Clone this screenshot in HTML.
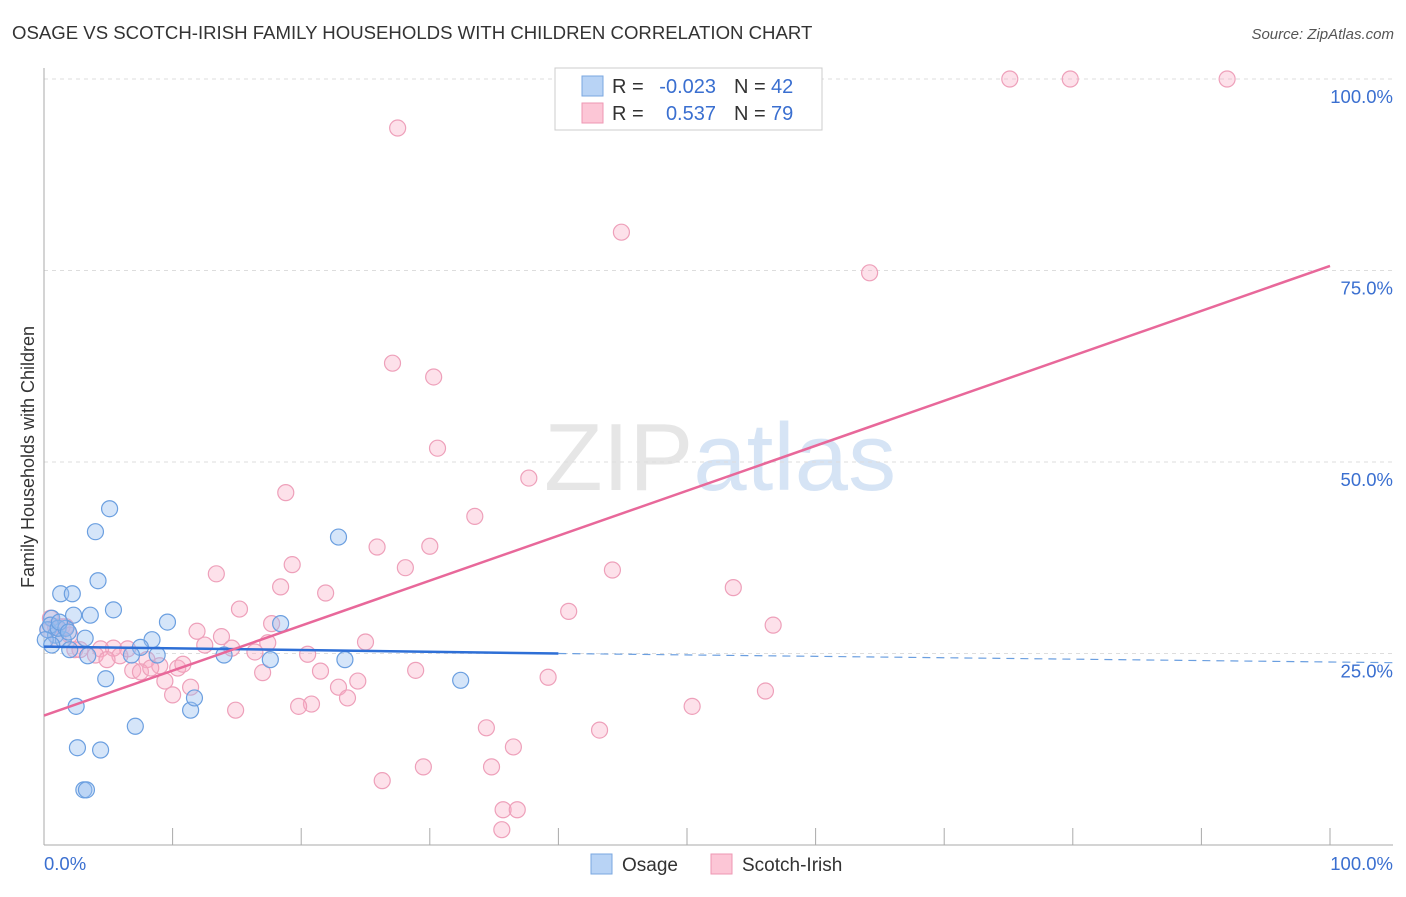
<!DOCTYPE html>
<html><head><meta charset="utf-8"><style>
body{margin:0;background:#fff;font-family:"Liberation Sans",sans-serif;}
svg text{font-family:"Liberation Sans",sans-serif;}
</style></head><body>
<svg id="chart" width="1406" height="892" xmlns="http://www.w3.org/2000/svg">
<text x="12" y="39" font-size="18.6" fill="#333">OSAGE VS SCOTCH-IRISH FAMILY HOUSEHOLDS WITH CHILDREN CORRELATION CHART</text>
<text x="1394" y="39" font-size="15" fill="#555" text-anchor="end" font-style="italic">Source: ZipAtlas.com</text>
<text x="720" y="490" font-size="96" text-anchor="middle" fill="#e6e6e6" font-family="Liberation Serif">ZIP<tspan fill="#d6e4f5" font-family="Liberation Sans">atlas</tspan></text>
<text transform="translate(34,457) rotate(-90)" font-size="18" fill="#333" text-anchor="middle">Family Households with Children</text>
<g id="grid"></g><g id="axes"></g><g id="marks"></g><g id="trends"></g>
<g>
<rect x="555" y="68" width="267" height="62" fill="#fff" stroke="#ccc"/>
<rect x="582" y="76" width="21" height="20" fill="#b8d3f5" stroke="#7aa7e0"/>
<rect x="582" y="103" width="21" height="20" fill="#fcc6d6" stroke="#ee97b3"/>
<text x="612" y="93" font-size="20" fill="#333">R =</text>
<text x="716" y="93" font-size="20" fill="#3a6fd0" text-anchor="end">-0.023</text>
<text x="734" y="93" font-size="20" fill="#333">N =</text>
<text x="771" y="93" font-size="20" fill="#3a6fd0">42</text>
<text x="612" y="120" font-size="20" fill="#333">R =</text>
<text x="716" y="120" font-size="20" fill="#3a6fd0" text-anchor="end">0.537</text>
<text x="734" y="120" font-size="20" fill="#333">N =</text>
<text x="771" y="120" font-size="20" fill="#3a6fd0">79</text>
</g>
<g>
<rect x="591" y="854" width="21" height="20" fill="#b8d3f5" stroke="#7aa7e0"/>
<text x="622" y="871" font-size="19" fill="#333">Osage</text>
<rect x="711" y="854" width="21" height="20" fill="#fcc6d6" stroke="#ee97b3"/>
<text x="742" y="871" font-size="19" fill="#333">Scotch-Irish</text>
</g>
</svg>
<script>
const yTicks=[25,50,75,100];
const yTickLabels=["25.0%","50.0%","75.0%","100.0%"];
const xTickLabels=["0.0%","100.0%"];
const osageX=[5.1,4.0,4.2,1.3,2.2,2.3,3.6,5.4,9.6,18.4,22.9,0.6,0.3,0.9,1.5,3.2,2.0,3.4,4.8,2.5,2.6,4.4,3.1,3.3,7.1,8.4,7.5,8.8,6.8,14.0,17.6,23.4,32.4,11.4,11.7,0.5,1.1,1.7,0.1,0.6,1.2,1.9];
const osageY=[43.9,40.9,34.5,32.8,32.8,30.0,30.0,30.7,29.1,28.9,40.2,29.6,28.1,27.4,26.8,27.0,25.5,24.7,21.7,18.1,12.7,12.4,7.2,7.2,15.5,26.8,25.8,24.8,24.8,24.8,24.2,24.2,21.5,17.6,19.2,28.7,28.3,28.3,26.8,26.1,29.1,27.8];
const irishX=[75.1,79.8,92.0,27.5,44.9,64.2,27.1,30.3,30.6,37.7,18.8,33.5,25.9,30.0,19.3,28.1,44.2,13.4,18.4,21.9,53.6,40.8,15.2,56.7,17.7,11.9,13.8,25.0,12.5,17.4,14.6,16.4,20.5,5.4,6.5,4.4,4.0,5.9,4.9,8.0,9.0,6.9,7.5,10.4,10.8,8.3,17.0,28.9,9.4,10.0,11.4,24.4,39.2,22.9,21.5,23.6,20.8,19.8,14.9,50.4,56.1,34.4,43.2,36.5,29.5,26.3,34.8,35.7,36.8,35.6,0.5,0.3,0.9,1.4,2.0,1.1,2.4,1.7,2.8];
const irishY=[100,100,100,93.6,80.0,74.7,62.9,61.1,51.8,47.9,46.0,42.9,38.9,39.0,36.6,36.2,35.9,35.4,33.7,32.9,33.6,30.5,30.8,28.7,28.9,27.9,27.2,26.5,26.1,26.4,25.7,25.2,24.9,25.7,25.6,25.6,24.8,24.7,24.2,24.2,23.4,22.8,22.6,23.1,23.6,23.1,22.5,22.8,21.4,19.6,20.6,21.4,21.9,20.6,22.7,19.2,18.4,18.1,17.6,18.1,20.1,15.3,15.0,12.8,10.2,8.4,10.2,4.6,4.6,2.0,29.6,28.1,28.5,28.5,27.4,26.8,25.5,28.5,25.5];
const osageTrend=[[0,25.9],[40,25.0],[105,23.8]];
const irishTrend=[[0,16.9],[100,75.6]];
const NS="http://www.w3.org/2000/svg";
const xs=v=>44+v*12.86, ys=v=>845-v*7.66;
function mk(t,a,p){const e=document.createElementNS(NS,t);for(const k in a)e.setAttribute(k,a[k]);p.appendChild(e);return e;}
const grid=document.getElementById('grid'),axes=document.getElementById('axes'),marks=document.getElementById('marks'),tr=document.getElementById('trends');
yTicks.forEach((t,i)=>{const l=mk('line',{x1:44,x2:1393,y1:ys(t),y2:ys(t),stroke:'#ddd','stroke-dasharray':'4,4'},grid);


const tx=mk('text',{x:1393,y:ys(t)+24,'font-size':18.5,fill:'#3a6fd0','text-anchor':'end'},axes);tx.textContent=yTickLabels[i];

});
mk('line',{x1:44,x2:44,y1:68,y2:845,stroke:'#aaa'},axes);
mk('line',{x1:44,x2:1393,y1:845,y2:845,stroke:'#aaa'},axes);
for(let i=0;i<=10;i++){mk('line',{x1:xs(i*10),x2:xs(i*10),y1:828,y2:845,stroke:'#aaa'},axes);}
[[0,'start',44],[1,'end',1393]].forEach(([i,a,x])=>{const tx=mk('text',{x:x,y:870,'font-size':18.5,fill:'#3a6fd0','text-anchor':a},axes);tx.textContent=xTickLabels[i];

});
irishX.forEach((v,i)=>{const c=mk('circle',{cx:xs(v),cy:ys(irishY[i]),r:8,fill:'rgba(248,170,195,0.35)',stroke:'#eea0ba','stroke-width':1.2},marks);

});
osageX.forEach((v,i)=>{const c=mk('circle',{cx:xs(v),cy:ys(osageY[i]),r:8,fill:'rgba(150,190,240,0.4)',stroke:'#6b9fe0','stroke-width':1.2},marks);

});
const b1=mk('line',{x1:xs(osageTrend[0][0]),y1:ys(osageTrend[0][1]),x2:xs(osageTrend[1][0]),y2:ys(osageTrend[1][1]),stroke:'#2e6fd6','stroke-width':2.5},tr);


const b2=mk('line',{x1:xs(osageTrend[1][0]),y1:ys(osageTrend[1][1]),x2:xs(osageTrend[2][0]),y2:ys(osageTrend[2][1]),stroke:'#6b9fe0','stroke-width':1.2,'stroke-dasharray':'8,6'},tr);


const p1=mk('line',{x1:xs(irishTrend[0][0]),y1:ys(irishTrend[0][1]),x2:xs(irishTrend[1][0]),y2:ys(irishTrend[1][1]),stroke:'#e8689a','stroke-width':2.5},tr);


</script>
</body></html>
